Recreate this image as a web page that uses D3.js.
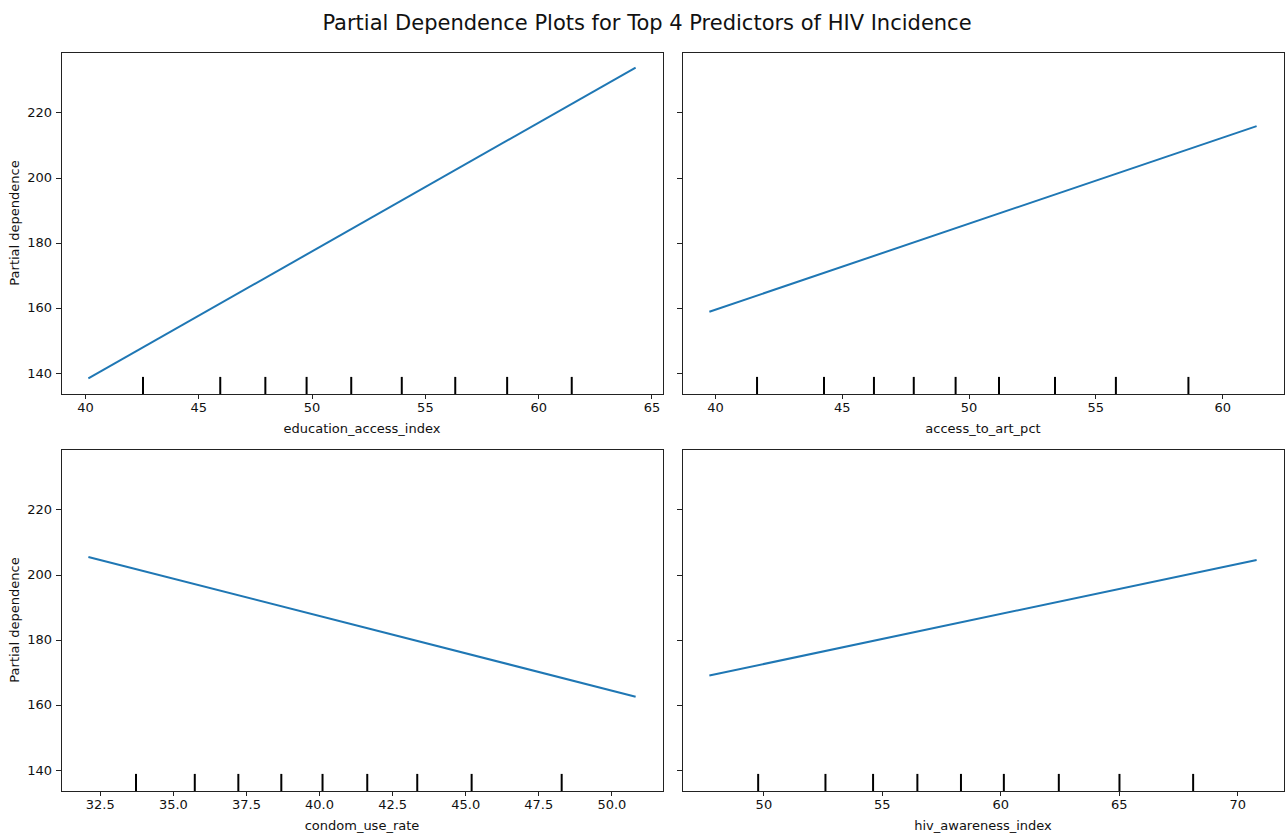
<!DOCTYPE html>
<html lang="en">
<head>
<meta charset="utf-8">
<title>Partial Dependence Plots</title>
<script src="https://cdnjs.cloudflare.com/ajax/libs/d3/7.8.5/d3.min.js"></script>
<style>
  body { margin: 0; background: white; font-family: "DejaVu Sans", sans-serif; }
  svg { display: block; background: white; }
  .axis path, .axis line { stroke: #222; stroke-width: 1; shape-rendering: crispEdges; }
  .axis text { font-family: "DejaVu Sans", sans-serif; font-size: 13px; fill: #111; }
  .frame { fill: none; stroke: #222; stroke-width: 1; shape-rendering: crispEdges; }
  .pd { fill: none; stroke: #1f77b4; stroke-width: 2; }
  .decile { stroke: #000; stroke-width: 2; }
  .label { font-size: 13px; fill: #111; }
  .title { font-size: 21px; fill: #111; }
</style>
</head>
<body>
<script>
// feature names (one per panel)
var features = ["education_access_index", "access_to_art_pct", "condom_use_rate", "hiv_awareness_index"];

// grid values (x) and partial dependence (y)
var gridX = [
  [40.15, 64.3],
  [39.78, 61.36],
  [32.11, 50.83],
  [47.72, 70.82]
];
var pdY = [
  [138.3, 233.8],
  [158.8, 215.8],
  [205.4, 162.5],
  [169.0, 204.5]
];

// deciles of each feature (rug marks)
var deciles = [
  [42.56, 45.97, 47.96, 49.78, 51.75, 53.98, 56.34, 58.63, 61.48],
  [41.66, 44.30, 46.27, 47.84, 49.49, 51.20, 53.41, 55.81, 58.67],
  [33.74, 35.75, 37.24, 38.71, 40.12, 41.65, 43.36, 45.22, 48.30],
  [49.78, 52.62, 54.63, 56.50, 58.34, 60.15, 62.47, 65.03, 68.14]
];

// tick values
var xTicks = [
  [40, 45, 50, 55, 60, 65],
  [40, 45, 50, 55, 60],
  [32.5, 35, 37.5, 40, 42.5, 45, 47.5, 50],
  [50, 55, 60, 65, 70]
];
var xTickFormat = [d3.format("d"), d3.format("d"), d3.format(".1f"), d3.format("d")];
var yTicks = [140, 160, 180, 200, 220];

var fullwidth = 1285, fullheight = 833;
var panelW = 602, panelH = 342;
var lefts = [61, 682, 61, 682];
var tops = [52, 52, 449, 449];

var svg = d3.select("body").append("svg")
  .attr("width", fullwidth)
  .attr("height", fullheight);

svg.append("text")
  .attr("class", "title")
  .attr("x", 647)
  .attr("y", 30)
  .attr("text-anchor", "middle")
  .text("Partial Dependence Plots for Top 4 Predictors of HIV Incidence");

// shared y domain with matplotlib-like 5% margins
var allY = d3.merge(pdY);
var yMin = d3.min(allY), yMax = d3.max(allY);
var yPad = (yMax - yMin) * 0.05;

features.forEach(function(name, i) {
  var g = svg.append("g")
    .attr("transform", "translate(" + lefts[i] + "," + tops[i] + ")");

  var xMin = d3.min(gridX[i]), xMax = d3.max(gridX[i]);
  var xPad = (xMax - xMin) * 0.05;

  var xScale = d3.scaleLinear().domain([xMin - xPad, xMax + xPad]).range([0, panelW]);
  var yScale = d3.scaleLinear().domain([yMin - yPad, yMax + yPad]).range([panelH, 0]);

  var xAxis = d3.axisBottom(xScale)
    .tickValues(xTicks[i])
    .tickFormat(xTickFormat[i])
    .tickSizeInner(5).tickSizeOuter(0).tickPadding(4);
  var yAxis = d3.axisLeft(yScale)
    .tickValues(yTicks)
    .tickSizeInner(5).tickSizeOuter(0).tickPadding(4);
  if (i % 2 === 1) yAxis.tickFormat("");

  g.append("g").attr("class", "x axis")
    .attr("transform", "translate(0," + panelH + ")")
    .call(xAxis)
    .select(".domain").remove();
  g.append("g").attr("class", "y axis")
    .call(yAxis)
    .select(".domain").remove();

  // deciles: from the bottom up to 5% of the axes height
  g.selectAll("line.decile")
    .data(deciles[i])
    .enter().append("line")
    .attr("class", "decile")
    .attr("x1", function(d) { return xScale(d); })
    .attr("x2", function(d) { return xScale(d); })
    .attr("y1", panelH)
    .attr("y2", panelH * 0.95);

  var line = d3.line()
    .x(function(d) { return xScale(d[0]); })
    .y(function(d) { return yScale(d[1]); });

  g.append("path")
    .datum(d3.zip(gridX[i], pdY[i]))
    .attr("class", "pd")
    .attr("d", line);

  g.append("rect")
    .attr("class", "frame")
    .attr("x", 0).attr("y", 0)
    .attr("width", panelW).attr("height", panelH);

  g.append("text")
    .attr("class", "label")
    .attr("x", panelW / 2)
    .attr("y", panelH + 39)
    .attr("text-anchor", "middle")
    .text(name);

  if (i % 2 === 0) {
    g.append("text")
      .attr("class", "label")
      .attr("transform", "rotate(-90)")
      .attr("x", -panelH / 2)
      .attr("y", -42)
      .attr("text-anchor", "middle")
      .text("Partial dependence");
  }
});
</script>
</body>
</html>
